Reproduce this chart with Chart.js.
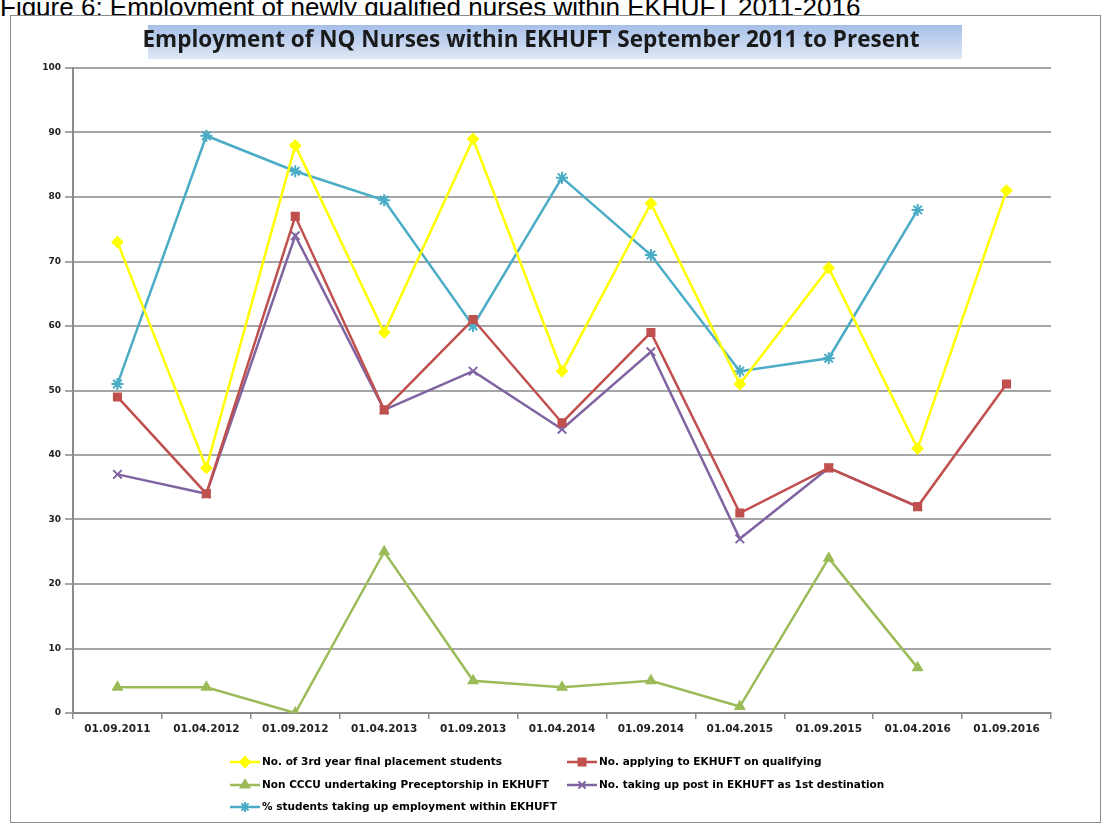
<!DOCTYPE html>
<html>
<head>
<meta charset="utf-8">
<script src="https://cdn.jsdelivr.net/npm/chart.js@4"></script>
<style>
  body { margin: 0; background: #fff; width: 1102px; height: 823px; overflow: hidden; position: relative; }
  #caption { position: absolute; left: 0; top: -6px; font: 26px/26px "Liberation Sans", Arial, sans-serif; color: #000; white-space: nowrap; }
  #box { position: absolute; left: 10px; top: 15px; width: 1089px; height: 806px; border: 1px solid #8c8c8c; background: #fff; }
</style>
</head>
<body>
<div id="caption">Figure 6: Employment of newly qualified nurses within EKHUFT 2011-2016</div>
<div id="box"><canvas id="chart1" width="1089" height="806"></canvas></div>
<script>
const labels = ["01.09.2011", "01.04.2012", "01.09.2012", "01.04.2013", "01.09.2013", "01.04.2014",
  "01.09.2014", "01.04.2015", "01.09.2015", "01.04.2016", "01.09.2016"];
const finalPlacement = [73, 38, 88, 59, 89, 53, 79, 51, 69, 41, 81];
const applying = [49, 34, 77, 47, 61, 45, 59, 31, 38, 32, 51];
const nonCccu = [4, 4, 0, 25, 5, 4, 5, 1, 24, 7, null];
const takingPost = [37, 34, 74, 47, 53, 44, 56, 27, 38, 32, null];
const pctEmployed = [51, 89.5, 84, 79.5, 60, 83, 71, 53, 55, 78, null];

const FONT = "'DejaVu Sans', sans-serif";

function series(label, data, color, style, radius) {
  return {
    label: label, data: data, borderColor: color, backgroundColor: color,
    pointStyle: style, pointRadius: radius, pointBorderWidth: 2,
    borderWidth: 2.5, tension: 0, spanGaps: false
  };
}

const datasets = [
  series("No. of 3rd year final placement students", finalPlacement, "#FFFF00", "rectRot", 5),
  series("No. applying to EKHUFT on qualifying", applying, "#C0504D", "rect", 5),
  series("Non CCCU undertaking Preceptorship in EKHUFT", nonCccu, "#9BBB59", "triangle", 5),
  series("No. taking up post in EKHUFT as 1st destination", takingPost, "#8064A2", "crossRot", 6),
  series("% students taking up employment within EKHUFT", pctEmployed, "#4BACC6", "star", 6)
];

// blue gradient behind the title
const titleBg = {
  id: "titleBg",
  beforeDraw(chart) {
    const ctx = chart.ctx;
    ctx.save();
    const g = ctx.createLinearGradient(0, 9, 0, 43);
    g.addColorStop(0, "#a6bfe8");
    g.addColorStop(1, "#dfe8f5");
    ctx.fillStyle = g;
    ctx.fillRect(137, 9, 814, 34);
    ctx.restore();
  }
};

// two-column legend like the original
const legend2 = {
  id: "legend2",
  afterDraw(chart) {
    const ctx = chart.ctx;
    const cols = [219, 556];
    const rows = [746, 769, 791];
    ctx.save();
    chart.data.datasets.forEach((ds, i) => {
      const x = cols[i % 2], y = rows[Math.floor(i / 2)];
      ctx.strokeStyle = ds.borderColor;
      ctx.fillStyle = ds.backgroundColor;
      ctx.lineWidth = 2.5;
      ctx.beginPath();
      ctx.moveTo(x, y);
      ctx.lineTo(x + 30, y);
      ctx.stroke();
      ctx.lineWidth = 2;
      Chart.helpers.drawPoint(ctx, { pointStyle: ds.pointStyle, rotation: 0, radius: 5, borderWidth: 2 }, x + 15, y);
      ctx.fillStyle = "#000";
      ctx.font = "bold 10.5px " + FONT;
      ctx.textBaseline = "middle";
      ctx.fillText(ds.label, x + 32, y);
    });
    ctx.restore();
  }
};

new Chart(document.getElementById("chart1"), {
  type: "line",
  data: { labels: labels, datasets: datasets },
  plugins: [titleBg, legend2],
  options: {
    responsive: false,
    animation: false,
    layout: { padding: { left: 0, right: 49, top: 0, bottom: 84 } },
    plugins: {
      legend: { display: false },
      tooltip: { enabled: false },
      title: {
        display: true,
        text: "Employment of NQ Nurses within EKHUFT September 2011 to Present",
        color: "#1a1a1a",
        font: { family: "'Open Sans', sans-serif", size: 22.5, weight: "bold" },
        padding: { top: 11, bottom: 14 }
      }
    },
    scales: {
      x: {
        offset: true,
        grid: { display: true, drawOnChartArea: false, drawTicks: true, tickLength: 6, offset: true, color: "#8c8c8c", lineWidth: 1.5 },
        border: { color: "#8c8c8c", width: 2 },
        ticks: { color: "#222", font: { family: FONT, size: 10.5, weight: "bold" }, maxRotation: 0, autoSkip: false, padding: 4 },
        afterFit(scale) { scale.height = 25; }
      },
      y: {
        min: 0, max: 100,
        ticks: { stepSize: 10, color: "#222", font: { family: FONT, size: 9, weight: "bold" }, padding: 4 },
        grid: { color: "#a6a6a6", lineWidth: 2, tickLength: 8 },
        border: { color: "#8c8c8c", width: 2 },
        afterFit(scale) { scale.width = 62; }
      }
    }
  }
});
</script>
</body>
</html>
